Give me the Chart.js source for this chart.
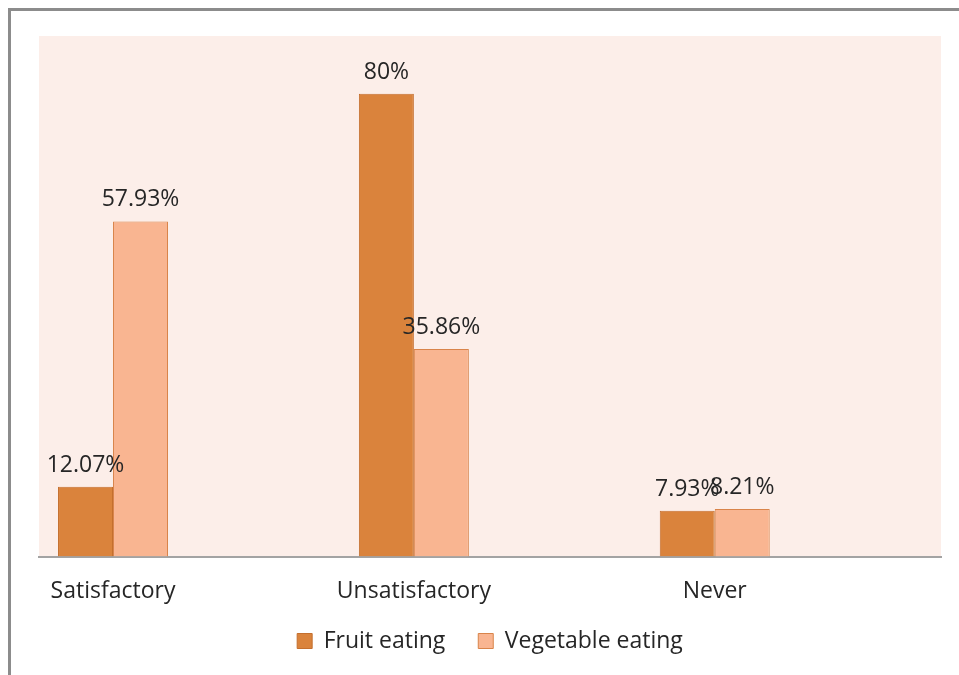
<!DOCTYPE html>
<html>
<head>
<meta charset="utf-8">
<script src="https://cdn.jsdelivr.net/npm/chart.js@4.4.1/dist/chart.umd.min.js"></script>
<style>
  html, body { margin: 0; padding: 0; background: #fff; }
  #wrap { width: 959px; height: 675px; position: relative; }
</style>
</head>
<body>
<div id="wrap"><canvas id="eatingChart"></canvas></div>
<script>
// Fruit / vegetable eating habits - grouped bar chart

const categories = ['Satisfactory', 'Unsatisfactory', 'Never'];
const categoryPos = [0, 1, 2];
const fruitValues = [12.07, 80, 7.93];
const vegetableValues = [57.93, 35.86, 8.21];
const seriesNames = ['Fruit eating', 'Vegetable eating'];

const textColor = '#262626';
const fontFamily = '"Open Sans", sans-serif';
const fontSize = 23;

// frame + pink plot background
const backgroundPlugin = {
  id: 'plotBackground',
  beforeDraw(chart) {
    const { ctx, chartArea } = chart;
    ctx.save();
    ctx.fillStyle = '#FCEEE9';
    ctx.fillRect(chartArea.left, chartArea.top, chartArea.right - chartArea.left, chartArea.bottom - chartArea.top);
    ctx.strokeStyle = '#8c8c8c';
    ctx.lineWidth = 3;
    ctx.beginPath();
    ctx.moveTo(9.5, chart.height);
    ctx.lineTo(9.5, 9.5);
    ctx.lineTo(chart.width, 9.5);
    ctx.stroke();
    ctx.restore();
  }
};

// value labels above each bar
const valueLabelPlugin = {
  id: 'valueLabels',
  afterDatasetsDraw(chart) {
    const { ctx } = chart;
    ctx.save();
    ctx.font = fontSize + 'px ' + fontFamily;
    ctx.fillStyle = textColor;
    ctx.textAlign = 'center';
    ctx.textBaseline = 'alphabetic';
    chart.data.datasets.forEach((ds, di) => {
      chart.getDatasetMeta(di).data.forEach((bar, i) => {
        ctx.fillText(ds.data[i] + '%', bar.x, bar.y - 15);
      });
    });
    ctx.restore();
  }
};

new Chart(document.getElementById('eatingChart'), {
  type: 'bar',
  data: {
    labels: categoryPos,
    datasets: [
      {
        label: seriesNames[0],
        data: fruitValues,
        backgroundColor: '#DA833C',
        borderColor: '#C46F2E',
        borderWidth: 1
      },
      {
        label: seriesNames[1],
        data: vegetableValues,
        backgroundColor: '#F9B591',
        borderColor: '#D9844A',
        borderWidth: 1
      }
    ]
  },
  options: {
    responsive: true,
    maintainAspectRatio: false,
    animation: false,
    categoryPercentage: 0.3655,
    barPercentage: 1,
    layout: {
      padding: { left: 39, right: 18, top: 36, bottom: 12.5 }
    },
    plugins: {
      legend: {
        display: true,
        position: 'bottom',
        labels: {
          boxWidth: 15,
          boxHeight: 15,
          padding: 21,
          color: textColor,
          font: { family: fontFamily, size: fontSize },
          generateLabels(chart) {
            // a bit more gap after the first item, like the original legend
            const items = Chart.defaults.plugins.legend.labels.generateLabels(chart);
            items[0].text += '  ';
            return items;
          }
        }
      },
      tooltip: { enabled: false }
    },
    scales: {
      x: {
        type: 'linear',
        offset: false,
        min: -0.246,
        max: 2.752,
        afterBuildTicks(scale) {
          scale.ticks = categoryPos.map(v => ({ value: v }));
        },
        afterFit(scale) {
          scale.height = 52;
        },
        grid: { display: false, drawTicks: false },
        border: { display: true, color: '#a3a3a3', width: 2 },
        ticks: {
          padding: 21,
          color: textColor,
          font: { family: fontFamily, size: fontSize },
          callback: v => categories[v]
        }
      },
      y: {
        display: false,
        min: 0,
        max: 90
      }
    }
  },
  plugins: [backgroundPlugin, valueLabelPlugin]
});
</script>
</body>
</html>
